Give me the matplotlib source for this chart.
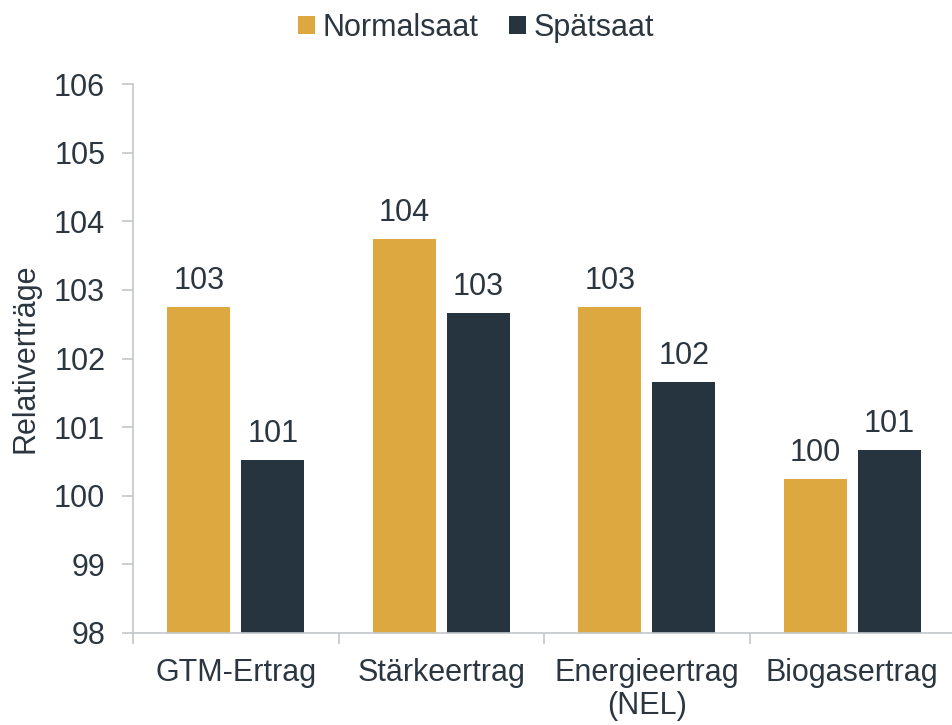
import matplotlib
matplotlib.use("Agg")
import matplotlib.pyplot as plt
import numpy as np

plt.rcParams['font.family'] = ['Liberation Sans', 'DejaVu Sans']

categories = ["GTM-Ertrag", "Stärkeertrag", "Energieertrag\n(NEL)", "Biogasertrag"]
normalsaat = [102.75, 103.74, 102.75, 100.24]
spaetsaat = [100.52, 102.66, 101.66, 100.66]
series_names = ["Normalsaat", "Spätsaat"]

C_GOLD = "#DDA83F"
C_DARK = "#263440"
C_TEXT = "#2B3640"
C_AXIS = "#C3C7CB"
FS = 22

fig = plt.figure(figsize=(9.52, 7.25), dpi=100)
ax = fig.add_axes([133 / 952, 1 - 633 / 725, (955 - 133) / 952, (633 - 84) / 725])

x = np.arange(len(categories))
w = 0.307
off = 0.18
b1 = ax.bar(x - off, [v - 98 for v in normalsaat], w, bottom=98, color=C_GOLD, label=series_names[0])
b2 = ax.bar(x + off, [v - 98 for v in spaetsaat], w, bottom=98, color=C_DARK, label=series_names[1])

for bars, vals in ((b1, normalsaat), (b2, spaetsaat)):
    for rect, v in zip(bars, vals):
        ax.annotate(f"{round(v):d}", xy=(rect.get_x() + rect.get_width() / 2, v),
                    xytext=(0, 8), textcoords="offset points", ha="center", va="bottom",
                    fontsize=FS, color=C_TEXT)

ax.set_ylim(98, 106)
ax.set_yticks(range(98, 107))
ax.set_xlim(-0.5, 3.5)
ax.set_xticks(x)
ax.set_xticklabels(categories, fontsize=FS, color=C_TEXT, linespacing=1.15)
ax.tick_params(axis="x", length=0, pad=18)
ax.set_xticks(np.arange(-0.5, 4.0, 1.0), minor=True)
ax.tick_params(axis="x", which="minor", length=8, color=C_AXIS, width=1.2)
ax.tick_params(axis="y", labelsize=FS, labelcolor=C_TEXT, length=8, color=C_AXIS, width=1.2, pad=12)
ax.set_ylabel("Relativerträge", fontsize=FS, color=C_TEXT)
ax.yaxis.set_label_coords(-0.112, 0.5)

for s in ["top", "right"]:
    ax.spines[s].set_visible(False)
for s in ["left", "bottom"]:
    ax.spines[s].set_color(C_AXIS)
    ax.spines[s].set_linewidth(1.2)

fig.legend(handles=[b1, b2], loc="upper center", bbox_to_anchor=(0.5, 1.02), ncol=2,
           frameon=False, fontsize=FS, handlelength=0.55, handleheight=0.55,
           handletextpad=0.25, columnspacing=1.0, labelcolor=C_TEXT)

fig.savefig("out.png", dpi=100)
